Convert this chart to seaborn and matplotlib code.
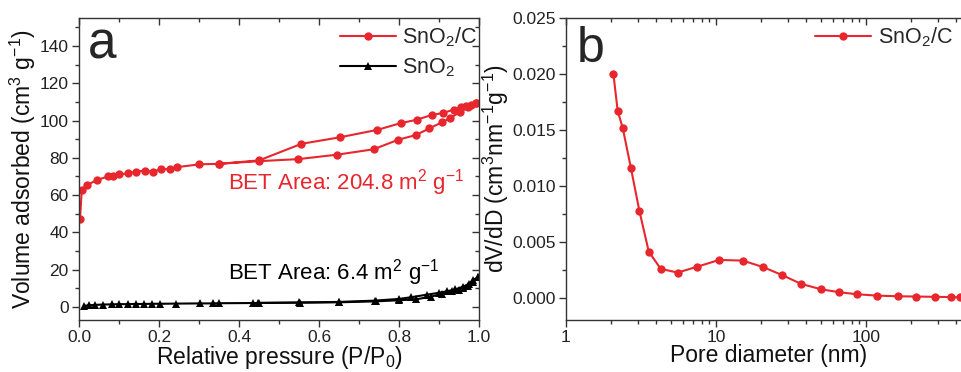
import numpy as np
import pandas as pd
import matplotlib
matplotlib.use("Agg")
import matplotlib.pyplot as plt
from matplotlib.ticker import MultipleLocator, FuncFormatter, LogLocator, NullFormatter
import seaborn as sns

# N2 sorption isotherm of SnO2/C: adsorption branch
p_ads_c = [0.0025, 0.007, 0.021, 0.046, 0.073, 0.084, 0.101, 0.122, 0.143, 0.164,
           0.185, 0.204, 0.227, 0.245, 0.301, 0.351, 0.45, 0.548, 0.646, 0.737,
           0.798, 0.842, 0.876, 0.907, 0.928, 0.952, 0.973, 0.993]
v_ads_c = [47.2, 62.9, 65.5, 68.2, 70.0, 70.4, 71.1, 71.6, 72.6, 73.1,
           72.6, 73.8, 74.0, 75.0, 76.5, 76.8, 78.2, 79.3, 81.7, 84.6,
           89.7, 92.2, 95.8, 99.0, 101.3, 104.5, 107.0, 109.4]
# desorption branch
p_des_c = [0.993, 0.981, 0.967, 0.956, 0.938, 0.909, 0.882, 0.844, 0.804, 0.746,
           0.652, 0.556, 0.45, 0.351]
v_des_c = [109.4, 108.3, 107.6, 107.0, 105.9, 104.0, 103.0, 100.4, 98.6, 95.0,
           91.0, 87.5, 78.6, 76.8]

# N2 sorption isotherm of bare SnO2
p_ads_s = [0.0125, 0.025, 0.04, 0.061, 0.082, 0.101, 0.122, 0.1425, 0.1625, 0.182,
           0.2025, 0.2425, 0.3025, 0.336, 0.35, 0.434, 0.448, 0.553, 0.651, 0.7425,
           0.80, 0.843, 0.879, 0.9075, 0.932, 0.95, 0.961, 0.973, 0.986, 0.998]
v_ads_s = [0.6, 0.9, 1.1, 1.3, 1.4, 1.5, 1.5, 1.6, 1.6, 1.7,
           1.7, 1.8, 1.9, 1.9, 2.0, 2.1, 2.1, 2.3, 2.5, 3.0,
           3.6, 4.1, 5.5, 7.0, 8.3, 9.2, 10.0, 11.4, 13.5, 16.0]
p_des_s = [0.998, 0.985, 0.975, 0.96, 0.94, 0.92, 0.90, 0.87, 0.83, 0.80,
           0.74, 0.65, 0.55, 0.45]
v_des_s = [16.0, 14.5, 12.5, 10.8, 9.4, 8.4, 7.6, 6.6, 5.2, 4.3,
           3.4, 2.7, 2.4, 2.2]

# BJH pore size distribution of SnO2/C
pore_d = [2.07, 2.21, 2.39, 2.71, 3.08, 3.56, 4.28, 5.55, 7.51, 10.5,
          15.1, 20.7, 27.4, 36.9, 49.9, 66.4, 87.5, 118, 164, 215,
          288, 367, 423]
dv_dd = [0.0200, 0.0167, 0.01515, 0.01157, 0.00778, 0.00412, 0.00257, 0.00224, 0.00277, 0.00337,
         0.00331, 0.00272, 0.00203, 0.00123, 0.00075, 0.00048, 0.00030, 0.00018, 0.00012, 0.00010,
         0.00007, 0.00005, 0.00003]

RED = "#e8262d"
BLACK = "#000000"

sns.set_style("ticks")
plt.rcParams["font.family"] = ["Liberation Sans", "DejaVu Sans"]
plt.rcParams["mathtext.default"] = "regular"
plt.rcParams["axes.linewidth"] = 1.0

fig = plt.figure(figsize=(9.61, 3.72), dpi=100)
ax1 = fig.add_axes([79 / 961, 52 / 372, 400 / 961, 302 / 372])
ax2 = fig.add_axes([566 / 961, 52 / 372, 405 / 961, 302 / 372])

# ---- panel a: isotherms ----
iso_c = pd.DataFrame({"p": p_ads_c + p_des_c, "v": v_ads_c + v_des_c})
iso_s_ads = pd.DataFrame({"p": p_ads_s, "v": v_ads_s})
iso_s_des = pd.DataFrame({"p": p_des_s, "v": v_des_s})

line_kw = dict(linewidth=1.5, markersize=6, markeredgewidth=0, estimator=None, sort=False)
sns.lineplot(data=iso_c, x="p", y="v", ax=ax1, color=RED, marker="o",
             label="SnO$_2$/C", **line_kw)
sns.lineplot(data=iso_s_ads, x="p", y="v", ax=ax1, color=BLACK, marker="^",
             label="SnO$_2$", **line_kw)
sns.lineplot(data=iso_s_des, x="p", y="v", ax=ax1, color=BLACK, marker="^",
             legend=False, **line_kw)

ax1.set_xlim(0, 1.0)
ax1.set_ylim(-7, 155)
ax1.xaxis.set_major_locator(MultipleLocator(0.2))
ax1.xaxis.set_minor_locator(MultipleLocator(0.1))
ax1.yaxis.set_major_locator(MultipleLocator(20))
ax1.yaxis.set_minor_locator(MultipleLocator(10))
ax1.xaxis.set_major_formatter(FuncFormatter(lambda v, _: f"{v:.1f}"))
ax1.set_xlabel("Relative pressure (P/P$_0$)", fontsize=16.5, labelpad=-1)
ax1.set_ylabel("Volume adsorbed (cm$^3$ g$^{-1}$)", fontsize=16.5, labelpad=1)
ax1.text(0.0225, 0.8675, "a", transform=ax1.transAxes, fontsize=37, va="baseline")
ax1.text(0.3725, 62.9, "BET Area: 204.8 m$^2$ g$^{-1}$", color=RED, fontsize=16)
ax1.text(0.3725, 14.6, "BET Area: 6.4 m$^2$ g$^{-1}$", color=BLACK, fontsize=16)
ax1.legend(loc="upper left", bbox_to_anchor=(0.6525, 0.975), frameon=False,
           fontsize=15.5, handlelength=2.6, handletextpad=0.3, borderpad=0,
           borderaxespad=0, labelspacing=0.35)

# ---- panel b: pore size distribution ----
psd = pd.DataFrame({"d": pore_d, "dv": dv_dd})
sns.lineplot(data=psd, x="d", y="dv", ax=ax2, color=RED, marker="o",
             label="SnO$_2$/C", **line_kw)
ax2.set_xscale("log")
ax2.set_xlim(1, 500)
ax2.set_ylim(-0.002, 0.025)
ax2.xaxis.set_major_locator(LogLocator(base=10))
ax2.xaxis.set_minor_locator(LogLocator(base=10, subs=np.arange(2, 10)))
ax2.xaxis.set_minor_formatter(NullFormatter())
ax2.xaxis.set_major_formatter(FuncFormatter(lambda v, _: f"{v:g}"))
ax2.yaxis.set_major_locator(MultipleLocator(0.005))
ax2.yaxis.set_minor_locator(MultipleLocator(0.0025))
ax2.yaxis.set_major_formatter(FuncFormatter(lambda v, _: f"{v:.3f}"))
ax2.set_xlabel("Pore diameter (nm)", fontsize=16.5, labelpad=-1)
ax2.set_ylabel("dV/dD (cm$^3$nm$^{-1}$g$^{-1}$)", fontsize=16.5, labelpad=1)
ax2.text(0.027, 0.855, "b", transform=ax2.transAxes, fontsize=36, va="baseline")
ax2.legend(loc="upper left", bbox_to_anchor=(0.615, 0.975), frameon=False,
           fontsize=15.5, handlelength=2.6, handletextpad=0.3, borderpad=0,
           borderaxespad=0)

for ax in (ax1, ax2):
    for side in ("top", "right", "left", "bottom"):
        ax.spines[side].set_visible(True)
        ax.spines[side].set_color("#333333")
    ax.tick_params(which="major", direction="out", length=5, width=1, pad=2.5,
                   labelsize=12.5, colors="#333333", labelcolor="#222222")
    ax.tick_params(which="minor", direction="out", length=3, width=1, colors="#333333")
    ax.tick_params(which="both", top=True, right=True)
    ax.xaxis.label.set_color("#111111")
    ax.yaxis.label.set_color("#111111")

# inward ticks on the mirrored top/right axes
for ax in (ax1, ax2):
    for t in ax.xaxis.get_major_ticks() + ax.xaxis.get_minor_ticks():
        t.tick2line.set_marker(3)
    for t in ax.yaxis.get_major_ticks() + ax.yaxis.get_minor_ticks():
        t.tick2line.set_marker(0)

fig.savefig("out.png", dpi=100)
